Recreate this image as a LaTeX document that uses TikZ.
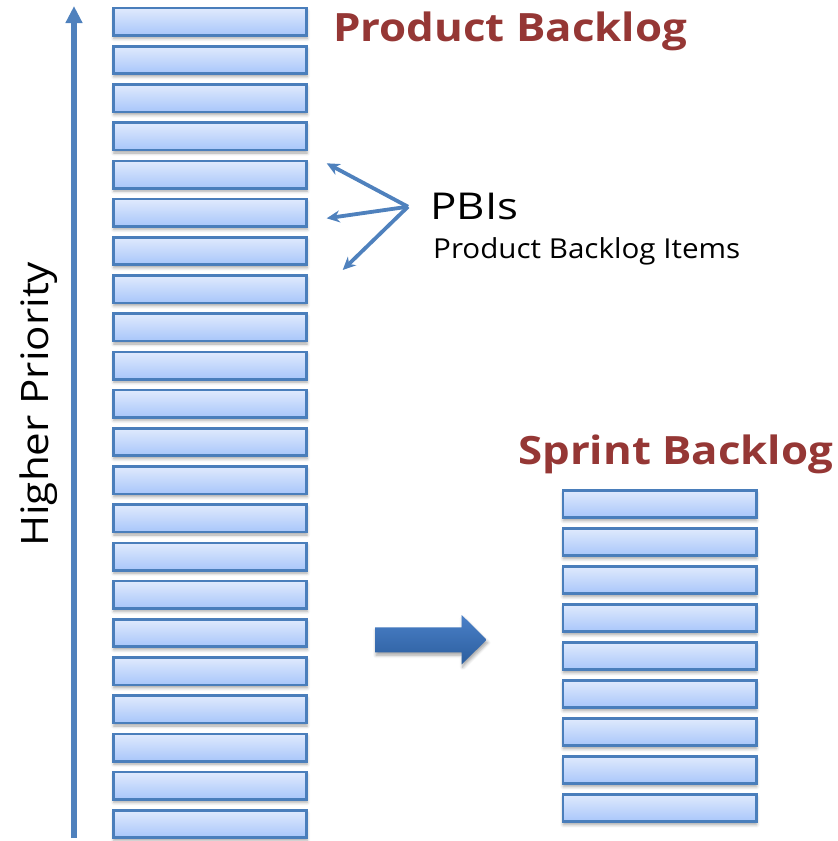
\documentclass[tikz,border=0pt]{standalone}
\usepackage{fontspec}
\setmainfont{Open Sans}
\usetikzlibrary{arrows.meta,shadows.blur}
\definecolor{boxline}{RGB}{74,126,187}
\definecolor{boxtop}{RGB}{224,234,253}
\definecolor{boxbot}{RGB}{168,198,250}
\definecolor{arrowblue}{RGB}{79,129,189}
\definecolor{titlered}{RGB}{149,55,53}
\definecolor{blocktop}{RGB}{74,128,200}
\definecolor{blockbot}{RGB}{44,94,158}
\tikzset{
  pbi/.style={rectangle, draw=boxline, line width=2.6pt, top color=boxtop, bottom color=boxbot,
    minimum width=193.4pt, minimum height=27.4pt, inner sep=0pt,
    blur shadow={shadow xshift=0.5pt, shadow yshift=-3pt, shadow blur radius=3pt, shadow opacity=35}},
  titletext/.style={inner sep=0pt, text=titlered, font=\fontsize{39}{39}\selectfont\bfseries},
  plaintext/.style={inner sep=0pt, text=black},
  fanarrow/.style={draw=arrowblue, line width=3.8pt, -{Stealth[length=13pt,width=12pt]}},
}
\begin{document}
\begin{tikzpicture}[x=1pt,y=-1pt]
\useasboundingbox (0,0) rectangle (838,841);
% priority arrow
\coordinate (vbot) at (74,838);
\coordinate (vtop) at (74,6);
\draw[line width=5.5pt, arrowblue, -{Triangle[width=16pt,length=17pt]}] (vbot) -- (vtop);
% product backlog items
\foreach \i in {1,...,22}
  \node[pbi] (p\i) at (210,{21.7+38.2*(\i-1)}) {};
% sprint backlog items
\foreach \j in {1,...,9}
  \node[pbi] (s\j) at (659.5,{504+38*(\j-1)}) {};
% titles
\node[titletext, anchor=base west] (pbt) at (333,41.7) {\resizebox{354pt}{\height}{Product Backlog}};
\node[titletext, anchor=base west] (sbt) at (518,464) {\resizebox{315pt}{\height}{Sprint Backlog}};
% PBIs labels
\node[plaintext, anchor=base west, font=\fontsize{37}{37}\selectfont] (pbis) at (430,219) {\resizebox{88pt}{\height}{PBIs}};
\node[plaintext, anchor=base west, font=\fontsize{27.5}{27.5}\selectfont] (pbil) at (433,258) {\resizebox{307pt}{\height}{Product Backlog Items}};
% Higher priority
\node[plaintext, anchor=base west, rotate=90, font=\fontsize{37.8}{37.8}\selectfont] (hp) at (48.3,547) {\resizebox{285pt}{\height}{Higher Priority}};
% fan arrows
\coordinate (fan) at (408,206.7);
\coordinate (t1) at (326.7,163.3);
\coordinate (t2) at (326.7,218.3);
\coordinate (t3) at (342.7,270);
\draw[fanarrow] (fan) -- (t1);
\draw[fanarrow] (fan) -- (t2);
\draw[fanarrow] (fan) -- (t3);
% block arrow
\path[top color=blocktop, bottom color=blockbot,
  blur shadow={shadow xshift=1pt, shadow yshift=-3pt, shadow blur radius=3pt, shadow opacity=35}]
  (375,627.3) -- (461.7,627.3) -- (461.7,615) -- (486.7,639.7) -- (461.7,664.3) -- (461.7,652.3) -- (375,652.3) -- cycle;
\end{tikzpicture}
\end{document}
